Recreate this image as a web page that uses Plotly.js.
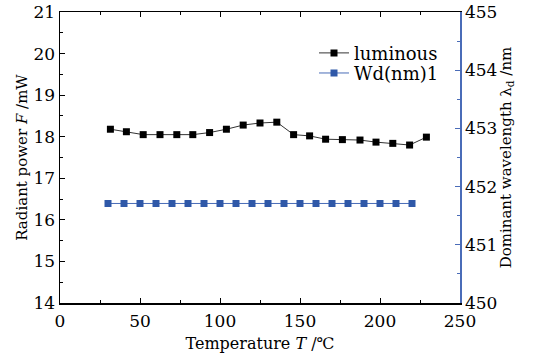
<!DOCTYPE html>
<html>
<head>
<meta charset="utf-8">
<script src="https://cdn.plot.ly/plotly-3.0.1.min.js"></script>
<style>html,body{margin:0;padding:0;background:#fff;}#chart{width:536px;height:359px;}</style>
</head>
<body>
<div id="chart"></div>
<script>
// Luminous (radiant power) series, left axis
const lumT = [31.5, 41.5, 52, 62.5, 73, 83, 93.5, 104, 114.5, 125, 135.5, 146, 156, 166, 176.5, 187.5, 197.5, 208, 218.5, 229];
const lumF = [18.18, 18.12, 18.05, 18.05, 18.05, 18.05, 18.10, 18.18, 18.28, 18.33, 18.35, 18.05, 18.02, 17.94, 17.93, 17.92, 17.87, 17.84, 17.80, 17.99];
// Dominant wavelength series, right axis
const wdT = [30, 40, 50, 60, 70, 80, 90, 100, 110, 120, 130, 140, 150, 160, 170, 180, 190, 200, 210, 220];
const wdNm = [451.71, 451.71, 451.71, 451.71, 451.71, 451.71, 451.71, 451.71, 451.71, 451.71, 451.71, 451.71, 451.71, 451.71, 451.71, 451.71, 451.71, 451.71, 451.71, 451.71];
const seriesNames = ["luminous", "Wd(nm)1"];

const FONT = "DejaVu Serif, Liberation Serif, serif";
const BLUE = "#2f58a8";
const AXBLUE = "#4a6cb8";

const traces = [
  {x: lumT, y: lumF, name: seriesNames[0], type: "scatter", mode: "lines+markers", legend: "legend",
   line: {color: "#333", width: 1}, marker: {symbol: "square", size: 7, color: "#000"}},
  {x: wdT, y: wdNm, name: seriesNames[1], type: "scatter", mode: "lines+markers", yaxis: "y2", legend: "legend2",
   line: {color: AXBLUE, width: 1}, marker: {symbol: "square", size: 7, color: BLUE}}
];

const legendBase = {xanchor: "left", yanchor: "top", bgcolor: "rgba(0,0,0,0)",
                    font: {family: FONT, size: 18, color: "#000"}, itemwidth: 30};

const layout = {
  width: 536, height: 359,
  margin: {l: 60, r: 76, t: 12, b: 56},
  paper_bgcolor: "#fff", plot_bgcolor: "#fff",
  font: {family: FONT, size: 15, color: "#000"},
  showlegend: true,
  legend: Object.assign({}, legendBase, {x: 0.635, y: 0.922}),
  legend2: Object.assign({}, legendBase, {x: 0.635, y: 0.853}),
  xaxis: {range: [0, 250], dtick: 50, tick0: 0, showgrid: false, zeroline: false,
          showline: true, linecolor: "#000", linewidth: 1.5, mirror: "ticks",
          ticks: "inside", ticklen: 5, tickcolor: "#000",
          minor: {dtick: 25, ticks: "inside", ticklen: 3, tickcolor: "#000"},
          tickfont: {family: FONT, size: 17}, ticklabelstandoff: 2,
          title: {text: "Temperature <i>T</i> /℃", font: {family: FONT, size: 16}, standoff: 8}},
  yaxis: {range: [14, 21], dtick: 1, showgrid: false, zeroline: false,
          showline: true, linecolor: "#000", linewidth: 1.5,
          ticks: "inside", ticklen: 5, tickcolor: "#000",
          minor: {dtick: 0.5, ticks: "inside", ticklen: 3, tickcolor: "#000"},
          tickfont: {family: FONT, size: 17},
          title: {text: "Radiant power <i>F</i> /mW", font: {family: FONT, size: 15}, standoff: 2}},
  yaxis2: {range: [450, 455], dtick: 1, overlaying: "y", side: "right", showgrid: false, zeroline: false,
           showline: true, linecolor: AXBLUE, linewidth: 1.5,
           ticks: "inside", ticklen: 5, tickcolor: AXBLUE,
           minor: {dtick: 0.5, ticks: "inside", ticklen: 3, tickcolor: AXBLUE},
           tickfont: {family: FONT, size: 17, color: "#000"},
           title: {text: "Dominant wavelength λ<sub>d</sub> /nm", font: {family: FONT, size: 15}, standoff: 4}}
};

Plotly.newPlot("chart", traces, layout, {displayModeBar: false, staticPlot: true});
</script>
</body>
</html>
